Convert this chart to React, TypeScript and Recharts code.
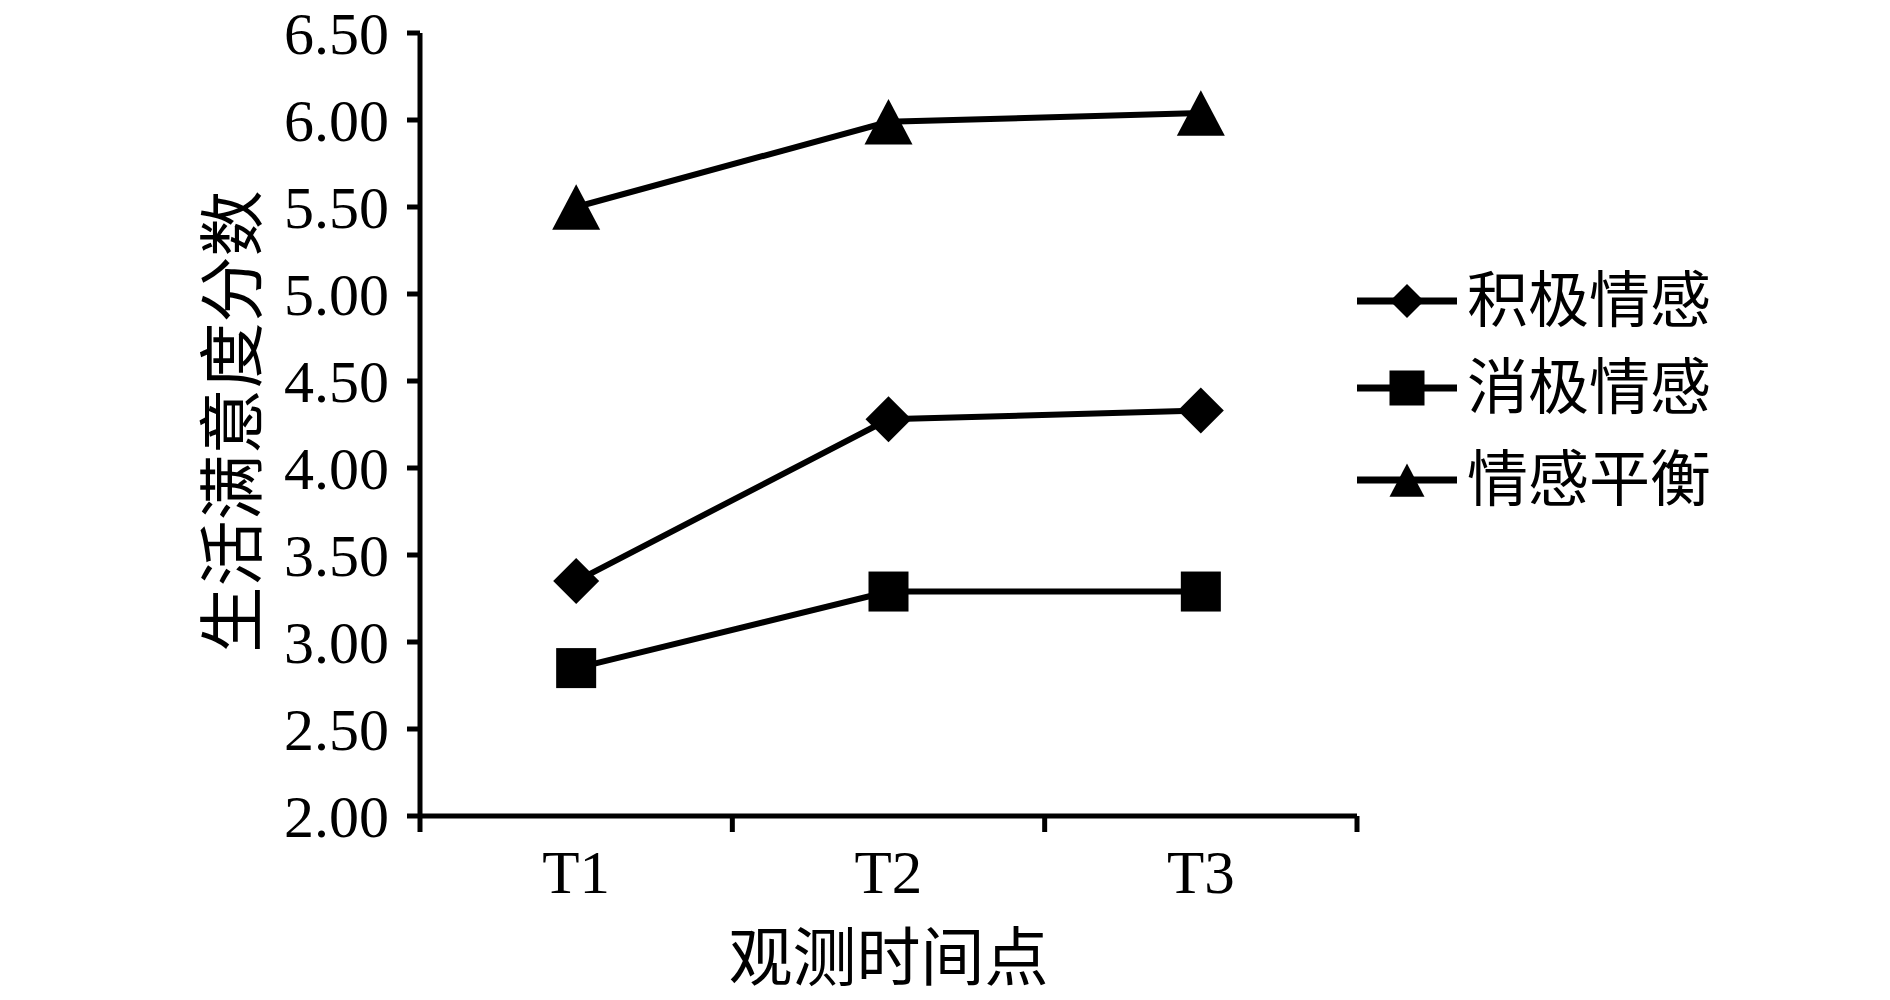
import { LineChart, Line, XAxis, YAxis, Label } from 'recharts';

const categories = ['T1', 'T2', 'T3'];
const positiveAffect = [3.35, 4.28, 4.33];
const negativeAffect = [2.85, 3.29, 3.29];
const affectBalance = [5.5, 5.99, 6.04];
const seriesNames = ['积极情感', '消极情感', '情感平衡'];
const yTicks = [2, 2.5, 3, 3.5, 4, 4.5, 5, 5.5, 6, 6.5];
const xTicks = [0, 0.5, 1, 1.5, 2, 2.5, 3];

const data = categories.map((name, i) => ({
    x: i + 0.5,
    name,
    pos: positiveAffect[i],
    neg: negativeAffect[i],
    bal: affectBalance[i],
}));

const FONT = '"Liberation Serif", "Times New Roman", serif';
const CJK = '"Liberation Serif", "Noto Sans CJK SC", serif';

type Shape = 'diamond' | 'square' | 'triangle';

function marker(shape: Shape, cx: number, cy: number, s: number, key?: string) {
    if (shape === 'diamond') {
        const h = s / 2;
        return <polygon key={key} points={`${cx},${cy - h} ${cx + h},${cy} ${cx},${cy + h} ${cx - h},${cy}`} fill="#000" />;
    }
    if (shape === 'square') {
        return <rect key={key} x={cx - s / 2} y={cy - s / 2} width={s} height={s} fill="#000" />;
    }
    const h = s * 0.95;
    return <polygon key={key} points={`${cx},${cy - h / 2} ${cx + s / 2},${cy + h / 2} ${cx - s / 2},${cy + h / 2}`} fill="#000" />;
}

const dotFor = (shape: Shape, size: number) => (props: any) =>
    marker(shape, props.cx, props.cy, size, `${shape}-${props.index}`);

const XTick = (props: any) => {
    const { x, y, payload } = props;
    const axisY = y - 34;
    const v = payload.value;
    if (Number.isInteger(v)) {
        return <line x1={x} x2={x} y1={axisY} y2={axisY + 16} stroke="#000" strokeWidth={5} />;
    }
    return (
        <text x={x} y={y} dy="0.71em" textAnchor="middle" fontSize={61} fontFamily={FONT} fill="#000">
            {categories[Math.floor(v)]}
        </text>
    );
};

const legendItems: { name: string; shape: Shape; size: number; top: number }[] = [
    { name: seriesNames[0], shape: 'diamond', size: 34, top: 301 },
    { name: seriesNames[1], shape: 'square', size: 35, top: 388 },
    { name: seriesNames[2], shape: 'triangle', size: 35, top: 480 },
];

export default function App() {
    return (
        <div style={{ position: 'absolute', left: 0, top: 0, width: 1890, height: 1000, background: '#fff' }}>
            <LineChart width={1890} height={1000} data={data} margin={{ top: 33, right: 533, bottom: 84, left: 0 }}>
                <XAxis
                    type="number"
                    dataKey="x"
                    domain={[0, 3]}
                    ticks={xTicks}
                    interval={0}
                    height={100}
                    tickLine={false}
                    tickSize={16}
                    tickMargin={18}
                    tick={<XTick />}
                    axisLine={{ stroke: '#000', strokeWidth: 5 }}
                >
                    <Label
                        content={(p: any) => {
                            const vb = p.viewBox;
                            return (
                                <text x={vb.x + vb.width / 2} y={vb.y + 142} dominantBaseline="central" textAnchor="middle" fontSize={64} fontFamily={CJK} fill="#000">
                                    观测时间点
                                </text>
                            );
                        }}
                    />
                </XAxis>
                <YAxis
                    type="number"
                    domain={[2, 6.5]}
                    ticks={yTicks}
                    interval={0}
                    width={420}
                    tickSize={13}
                    tickMargin={18}
                    tickFormatter={(v: number) => v.toFixed(2)}
                    tick={{ fontSize: 60, fill: '#000', fontFamily: FONT }}
                    tickLine={{ stroke: '#000', strokeWidth: 5 }}
                    axisLine={{ stroke: '#000', strokeWidth: 5 }}
                >
                    <Label
                        content={(p: any) => {
                            const vb = p.viewBox;
                            const cx = vb.x + 233;
                            const cy = vb.y + vb.height / 2 - 3;
                            return (
                                <text x={cx} y={cy} transform={`rotate(-90, ${cx}, ${cy})`} dominantBaseline="central" textAnchor="middle" fontSize={66} fontFamily={CJK} fill="#000">
                                    生活满意度分数
                                </text>
                            );
                        }}
                    />
                </YAxis>
                <Line dataKey="pos" name={seriesNames[0]} stroke="#000" strokeWidth={6} dot={dotFor('diamond', 46)} isAnimationActive={false} />
                <Line dataKey="neg" name={seriesNames[1]} stroke="#000" strokeWidth={6} dot={dotFor('square', 40)} isAnimationActive={false} />
                <Line dataKey="bal" name={seriesNames[2]} stroke="#000" strokeWidth={6} dot={dotFor('triangle', 48)} isAnimationActive={false} />
            </LineChart>
            {legendItems.map((item) => (
                <div
                    key={item.name}
                    style={{ position: 'absolute', left: 1357, top: item.top - 40, height: 80, display: 'flex', alignItems: 'center' }}
                >
                    <svg width={100} height={50}>
                        <line x1={0} x2={100} y1={25} y2={25} stroke="#000" strokeWidth={7} />
                        {marker(item.shape, 50, 25, item.size)}
                    </svg>
                    <span style={{ marginLeft: 10, fontSize: 61, fontFamily: CJK, color: '#000', lineHeight: 1 }}>{item.name}</span>
                </div>
            ))}
        </div>
    );
}
